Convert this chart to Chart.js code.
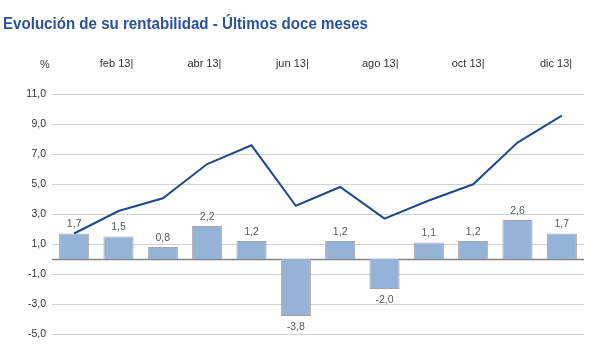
<!DOCTYPE html>
<html>
<head>
<meta charset="utf-8">
<script src="https://cdn.jsdelivr.net/npm/chart.js@4/dist/chart.umd.min.js"></script>
<style>
  html, body { margin: 0; padding: 0; background: #ffffff; }
  #wrap { width: 603px; height: 362px; position: relative; }
</style>
</head>
<body>
<div id="wrap"><canvas id="c" width="603" height="362"></canvas></div>
<script>
// ---- data ----
const months = ['ene 13', 'feb 13', 'mar 13', 'abr 13', 'may 13', 'jun 13', 'jul 13', 'ago 13', 'sep 13', 'oct 13', 'nov 13', 'dic 13'];
const monthlyReturn = [1.7, 1.5, 0.8, 2.2, 1.2, -3.8, 1.2, -2.0, 1.1, 1.2, 2.6, 1.7];
const cumulativeReturn = [1.7, 3.2, 4.05, 6.33, 7.58, 3.55, 4.8, 2.69, 3.9, 4.98, 7.76, 9.56];
const topLabels = ['feb 13|', 'abr 13|', 'jun 13|', 'ago 13|', 'oct 13|', 'dic 13|'];
const yTicks = [-5, -3, -1, 1, 3, 5, 7, 9, 11];
const titleText = 'Evolución de su rentabilidad - Últimos doce meses';
const unitLabel = '%';

const fmt = v => v.toFixed(1).replace('.', ',');
const FONT = "'Liberation Sans', Arial, sans-serif";

const extras = {
  id: 'extras',
  beforeDatasetsDraw(chart) {
    const ctx = chart.ctx, y = chart.scales.y, a = chart.chartArea;
    const p = Math.round(y.getPixelForValue(0)) + 0.5;
    ctx.save();
    ctx.strokeStyle = '#858585';
    ctx.lineWidth = 1.6;
    ctx.beginPath(); ctx.moveTo(a.left, p); ctx.lineTo(a.right, p); ctx.stroke();
    ctx.restore();
  },
  afterDatasetsDraw(chart) {
    const ctx = chart.ctx;
    const meta = chart.getDatasetMeta(0);
    ctx.save();
    ctx.font = '10.5px ' + FONT;
    ctx.fillStyle = '#595959';
    ctx.textAlign = 'center';
    meta.data.forEach((bar, i) => {
      const v = monthlyReturn[i];
      if (v >= 0) {
        ctx.textBaseline = 'bottom';
        ctx.fillText(fmt(v), bar.x, bar.y - 4);
      } else {
        ctx.textBaseline = 'top';
        ctx.fillText(fmt(v), bar.x, bar.y + 6);
      }
    });
    // unit label
    ctx.font = '11px ' + FONT;
    ctx.fillStyle = '#333333';
    ctx.textBaseline = 'middle';
    ctx.fillText(unitLabel, 45, 65);
    // title (slightly condensed, like the original)
    ctx.font = 'bold 16px ' + FONT;
    ctx.fillStyle = '#2a539c';
    ctx.textAlign = 'left';
    ctx.textBaseline = 'alphabetic';
    const w = ctx.measureText(titleText).width;
    ctx.translate(3, 28.5);
    ctx.scale(365 / w, 1);
    ctx.fillText(titleText, 0, 0);
    ctx.restore();
  }
};

new Chart(document.getElementById('c'), {
  data: {
    labels: months,
    datasets: [
      {
        type: 'bar',
        data: monthlyReturn,
        backgroundColor: '#95b3d7',
        borderColor: '#a6a6a6',
        borderWidth: 1,
        categoryPercentage: 1,
        barPercentage: 0.68,
        order: 2
      },
      {
        type: 'line',
        data: cumulativeReturn,
        borderColor: '#1f4a8c',
        borderWidth: 2,
        pointRadius: 0,
        tension: 0,
        fill: false,
        order: 1
      }
    ]
  },
  options: {
    responsive: false,
    animation: false,
    devicePixelRatio: 1,
    layout: { padding: { left: 0, right: 19, bottom: 28, top: 31 } },
    plugins: {
      legend: { display: false },
      tooltip: { enabled: false },
      title: { display: false }
    },
    scales: {
      x: {
        type: 'category',
        display: false,
        offset: true
      },
      xTop: {
        type: 'linear',
        position: 'top',
        min: 0.266,
        max: 6.318,
        grid: { display: false, drawTicks: false },
        border: { display: false },
        afterBuildTicks: axis => { axis.ticks = topLabels.map((_, i) => ({ value: i + 1 })); },
        afterFit: axis => { axis.height = 63; },
        ticks: {
          autoSkip: false,
          maxRotation: 0,
          padding: 23,
          color: '#333333',
          font: { family: FONT, size: 11 },
          callback: v => topLabels[v - 1]
        }
      },
      y: {
        type: 'linear',
        min: -5,
        max: 11,
        afterBuildTicks: axis => { axis.ticks = yTicks.map(v => ({ value: v })); },
        afterFit: axis => { axis.width = 52; },
        grid: { color: '#d4d4d4', lineWidth: 1, drawTicks: false },
        border: { display: false },
        ticks: {
          padding: 6,
          color: '#333333',
          font: { family: FONT, size: 10.5 },
          callback: v => fmt(v)
        }
      }
    }
  },
  plugins: [extras]
});
</script>
</body>
</html>
